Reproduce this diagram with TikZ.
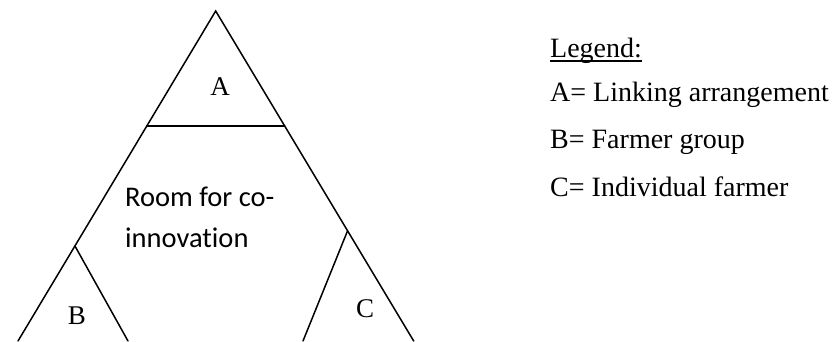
\documentclass[tikz,border=0pt]{standalone}
\usepackage{fontspec}
\usetikzlibrary{calc}
\newfontfamily\gara{Liberation Serif}
\newfontfamily\cali[Ligatures={NoCommon}]{Carlito}
\tikzset{
  side/.style={draw, line width=1.5pt, line cap=round},
  tag/.style={font=\gara\fontsize{27}{32}\selectfont, inner sep=0pt, anchor=base},
  leg/.style={font=\gara\fontsize{28}{32}\selectfont, inner sep=0pt, anchor=base west},
  room/.style={font=\cali\fontsize{28.5}{40.5}\selectfont, inner sep=0pt, align=left, anchor=base west}
}
\begin{document}
\begin{tikzpicture}[x=1pt, y=-1pt]
\useasboundingbox (0,0) rectangle (837,341);
% outer triangle (base runs off the page)
\coordinate (top) at (215.7,11);
\coordinate (bl) at (18,341);
\coordinate (br) at (413.7,341);
\draw[side] (bl) -- (top) -- (br);
% A: cut at the top
\coordinate (aL) at ($(top)!0.3485!(bl)$);
\coordinate (aR) at ($(top)!0.3485!(br)$);
\draw[side] (aL) -- (aR);
% B and C corners
\coordinate (bTop) at ($(top)!0.712!(bl)$);
\coordinate (bEnd) at (128,341);
\draw[side] (bTop) -- (bEnd);
\coordinate (cTop) at ($(top)!0.666!(br)$);
\coordinate (cEnd) at (303,341);
\draw[side] (cTop) -- (cEnd);
% labels
\node[tag] (a) at (220,95) {A};
\node[tag] (b) at (77,324) {B};
\node[tag] (c) at (365,317) {C};
\node[room] (room) at (125,247.3) {Room for co-\\innovation};
% legend
\node[leg] (legend) at (550,57) {Legend:};
\draw[line width=1.3pt] ([yshift=-4pt]legend.base west) -- ([yshift=-4pt]legend.base east);
\node[leg] (la) at (550,101) {A= Linking arrangement};
\node[leg] (lb) at (550,148) {B= Farmer group};
\node[leg] (lc) at (550,196) {C= Individual farmer};
\end{tikzpicture}
\end{document}
